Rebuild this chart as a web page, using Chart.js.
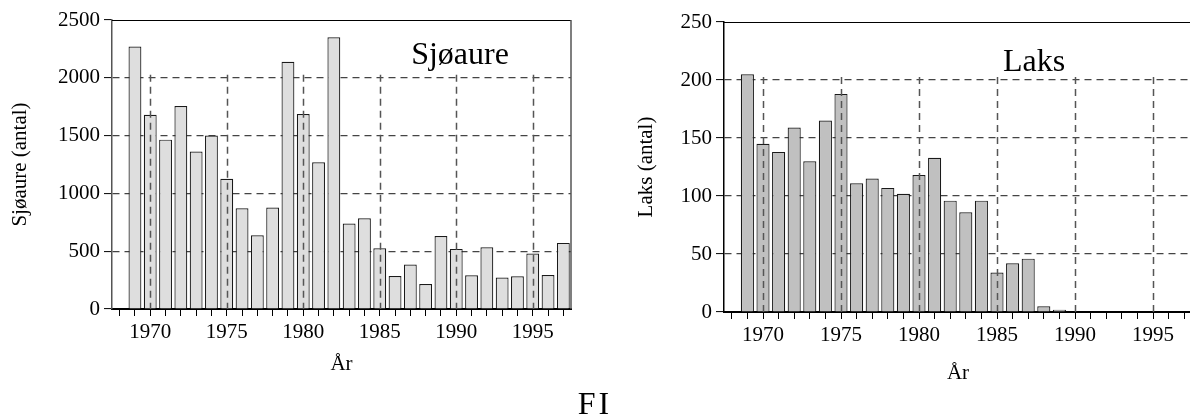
<!DOCTYPE html>
<html>
<head>
<meta charset="utf-8">
<script src="https://cdn.jsdelivr.net/npm/chart.js@4.4.0/dist/chart.umd.min.js"></script>
<style>
    html, body { margin: 0; padding: 0; background: #fff; width: 1190px; height: 417px; overflow: hidden; }
    .boks { position: absolute; top: 0; }
    #fi { position: absolute; left: 0; width: 1190px; top: 387px; text-align: center;
          font-family: 'Liberation Serif', 'Times New Roman', serif; font-size: 32px; line-height: 1;
          letter-spacing: 3px; color: #000; }
</style>
</head>
<body>
<div class="boks" style="left:0"><canvas id="sjoaureChart" width="600" height="390"></canvas></div>
<div class="boks" style="left:630px"><canvas id="laksChart" width="600" height="392"></canvas></div>
<div id="fi">FI</div>

<script>
    // År på x-aksen (1968 uten fangst registrert)
    const aar = ['1968', '1969', '1970', '1971', '1972', '1973', '1974', '1975', '1976', '1977',
                 '1978', '1979', '1980', '1981', '1982', '1983', '1984', '1985', '1986', '1987',
                 '1988', '1989', '1990', '1991', '1992', '1993', '1994', '1995', '1996', '1997'];

    // Bare hvert femte år får tekst
    const aarEtiketter = ['1970', '1975', '1980', '1985', '1990', '1995'];

    // Fangst sjøaure (antall)
    const sjoaure = [null, 2270, 1680, 1465, 1755, 1363, 1500, 1126, 872, 638,
                     878, 2139, 1686, 1270, 2350, 739, 785, 526, 286, 384,
                     216, 632, 520, 292, 534, 272, 283, 480, 294, 572];

    // Fangst laks (antall)
    const laks = [null, 205, 145, 138, 159, 130, 165, 188, 111, 115,
                  107, 102, 118, 133, 96, 86, 96, 34, 42, 46,
                  5, 2, 0, 0, 0, 0, 0, 0, 0, 0];

    const skrift = "'Liberation Serif', 'Times New Roman', serif";

    // Loddrette stiplede linjer over søylene, ramme og tittel inne i plottet
    const rammePlugin = {
        id: 'ramme',
        afterDatasetsDraw(chart, args, opts) {
            const { ctx, chartArea: a, scales: { x, y } } = chart;
            ctx.save();
            ctx.strokeStyle = '#555';
            ctx.lineWidth = 1.5;
            ctx.setLineDash([7, 5]);
            const yTopp = y.getPixelForValue(opts.gridTopp) - 3;
            chart.data.labels.forEach((lab, i) => {
                if (aarEtiketter.includes(lab)) {
                    const px = Math.round(x.getPixelForValue(i)) + 0.5;
                    ctx.beginPath();
                    ctx.moveTo(px, yTopp);
                    ctx.lineTo(px, a.bottom);
                    ctx.stroke();
                }
            });
            ctx.setLineDash([]);

            ctx.strokeStyle = '#000';
            ctx.lineWidth = 1;
            ctx.beginPath();
            ctx.moveTo(a.left, Math.round(a.top) + 0.5);
            ctx.lineTo(a.right, Math.round(a.top) + 0.5);
            ctx.stroke();

            ctx.strokeStyle = opts.kantFarge;
            ctx.lineWidth = 1.5;
            ctx.beginPath();
            ctx.moveTo(a.right, a.top);
            ctx.lineTo(a.right, a.bottom);
            ctx.stroke();

            ctx.fillStyle = '#000';
            ctx.font = '32px ' + skrift;
            ctx.textAlign = 'center';
            ctx.textBaseline = 'alphabetic';
            ctx.fillText(opts.tittel, opts.tittelX, opts.tittelY);
            ctx.restore();
        }
    };

    function initChart(id, verdier, o) {
        const ctx = document.getElementById(id).getContext('2d');
        const font = { family: skrift, size: 21 };
        return new Chart(ctx, {
            type: 'bar',
            data: {
                labels: aar,
                datasets: [{
                    data: verdier,
                    backgroundColor: o.fyll,
                    borderColor: '#1a1a1a',
                    borderWidth: 1.2,
                    barPercentage: 0.84,
                    categoryPercentage: 1
                }]
            },
            options: {
                responsive: false,
                animation: false,
                layout: { padding: { top: o.padTopp, right: o.padHoyre, left: 0, bottom: 0 } },
                plugins: {
                    legend: { display: false },
                    tooltip: { enabled: false },
                    ramme: {
                        gridTopp: o.gridTopp,
                        kantFarge: o.yKant,
                        tittel: o.tittel,
                        tittelX: o.tittelX,
                        tittelY: o.tittelY
                    }
                },
                scales: {
                    x: {
                        offset: true,
                        grid: { offset: false, drawOnChartArea: false, tickLength: 7, tickColor: '#000', tickWidth: 1 },
                        border: { color: '#000', width: 2 },
                        ticks: {
                            autoSkip: false,
                            maxRotation: 0,
                            padding: 4,
                            color: '#000',
                            font: font,
                            callback: (v, i) => aarEtiketter.includes(aar[i]) ? aar[i] : ''
                        },
                        title: { display: true, text: 'År', color: '#000', font: font, padding: { top: 0, bottom: o.xTittelPad } },
                        afterFit: s => { s.height = o.xHoyde; }
                    },
                    y: {
                        min: 0,
                        max: o.maks,
                        ticks: { stepSize: o.steg, padding: 4, color: '#000', font: font, callback: v => String(v) },
                        grid: {
                            color: c => (c.tick && (c.tick.value === 0 || c.tick.value === o.maks)) ? 'rgba(0,0,0,0)' : '#444',
                            lineWidth: 1.2,
                            tickLength: 8,
                            tickColor: '#000',
                            tickWidth: 1
                        },
                        border: { dash: [7, 5], color: o.yKant, width: 1.5 },
                        title: { display: true, text: o.yTittel, color: '#000', font: font, padding: { top: o.yTittelPad, bottom: 0 } },
                        afterFit: s => { s.width = o.yBredde; }
                    }
                }
            },
            plugins: [rammePlugin]
        });
    }

    initChart('sjoaureChart', sjoaure, {
        fyll: '#dedede', maks: 2500, steg: 500, gridTopp: 2000,
        padTopp: 20, padHoyre: 29, yBredde: 112, xHoyde: 81,
        xTittelPad: 13, yTittelPad: 8, yKant: '#555',
        yTittel: 'Sjøaure (antal)', tittel: 'Sjøaure', tittelX: 460, tittelY: 64
    });

    initChart('laksChart', laks, {
        fyll: '#c0c0c0', maks: 250, steg: 50, gridTopp: 200,
        padTopp: 22, padHoyre: 38, yBredde: 94, xHoyde: 80,
        xTittelPad: 6, yTittelPad: 4, yKant: '#000',
        yTittel: 'Laks (antal)', tittel: 'Laks', tittelX: 404, tittelY: 71
    });
</script>
</body>
</html>
